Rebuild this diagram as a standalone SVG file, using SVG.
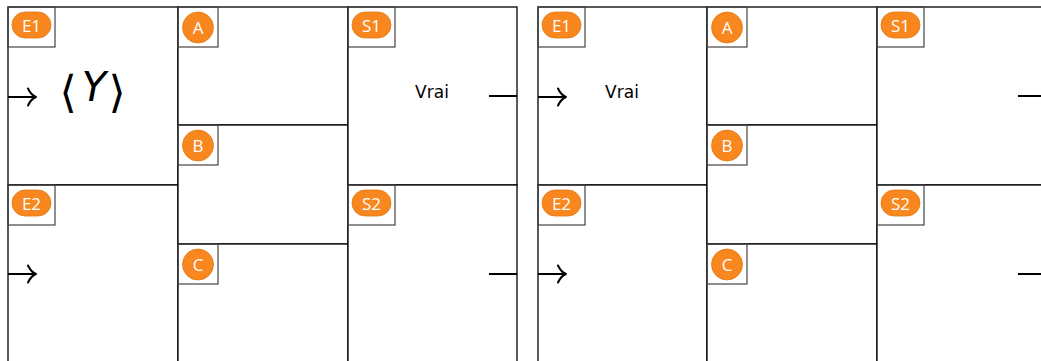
<svg xmlns="http://www.w3.org/2000/svg" width="1041" height="361" viewBox="0 0 1041 361">
  <style>
    .cell { fill: #ffffff; stroke: #000000; stroke-width: 1.3; }
    .tag { fill: none; stroke: #444444; stroke-width: 1.2; }
    .badge { fill: #f7871e; stroke: #e27a15; stroke-width: 0.8; }
    .badge-text { fill: #ffffff; font-family: "Open Sans", "DejaVu Sans", sans-serif; font-size: 17px; text-anchor: middle; }
    .value { fill: #000000; font-family: "DejaVu Sans", "Liberation Sans", sans-serif; font-size: 17px; text-anchor: middle; }
    .math { fill: #000000; font-family: "DejaVu Sans", sans-serif; text-anchor: middle; }
    .wire { fill: none; stroke: #000000; stroke-width: 2; }
    .head { fill: none; stroke: #000000; stroke-width: 2; stroke-linecap: round; stroke-linejoin: round; }
  </style>
  <defs>
    <!-- label tag with pill badge (two-character names) -->
    <g id="tag-wide">
      <rect class="tag" x="0" y="0" width="47" height="40"/>
      <rect class="badge" x="4" y="5" width="39" height="26" rx="13"/>
    </g>
    <!-- label tag with round badge (single-letter names) -->
    <g id="tag-round">
      <rect class="tag" x="0" y="0" width="40" height="40"/>
      <circle class="badge" cx="20" cy="20.5" r="15.5"/>
    </g>
    <!-- input arrow: shaft plus open head -->
    <g id="in-arrow">
      <line class="wire" x1="0" y1="0" x2="27" y2="0"/>
      <path class="head" d="M20,-8.5 Q23,-2 28,0 Q23,2 20,8.5"/>
    </g>
  </defs>

  <!-- ===== left panel ===== -->
  <g id="L-E1">
    <rect class="cell" x="8" y="7" width="170" height="178"/>
    <use href="#tag-wide" x="8" y="7"/>
    <text class="badge-text" x="31.5" y="32">E1</text>
    <text class="math" x="68" y="107" font-size="44">⟨</text>
    <text class="math" x="94" y="101" font-size="40" font-style="italic">Y</text>
    <text class="math" x="117" y="107" font-size="44">⟩</text>
  </g>
  <g id="L-E2">
    <rect class="cell" x="8" y="185" width="170" height="190"/>
    <use href="#tag-wide" x="8" y="185"/>
    <text class="badge-text" x="31.5" y="210">E2</text>
  </g>
  <g id="L-A">
    <rect class="cell" x="178" y="7" width="170" height="118"/>
    <use href="#tag-round" x="178" y="7"/>
    <text class="badge-text" x="198" y="34">A</text>
  </g>
  <g id="L-B">
    <rect class="cell" x="178" y="125" width="170" height="119"/>
    <use href="#tag-round" x="178" y="125"/>
    <text class="badge-text" x="198" y="152">B</text>
  </g>
  <g id="L-C">
    <rect class="cell" x="178" y="244" width="170" height="130"/>
    <use href="#tag-round" x="178" y="244"/>
    <text class="badge-text" x="198" y="271">C</text>
  </g>
  <g id="L-S1">
    <rect class="cell" x="348" y="7" width="169" height="178"/>
    <use href="#tag-wide" x="348" y="7"/>
    <text class="badge-text" x="371.5" y="32">S1</text>
    <text class="value" x="432" y="98">Vrai</text>
  </g>
  <g id="L-S2">
    <rect class="cell" x="348" y="185" width="169" height="190"/>
    <use href="#tag-wide" x="348" y="185"/>
    <text class="badge-text" x="371.5" y="210">S2</text>
  </g>

  <!-- ===== right panel ===== -->
  <g id="R-E1">
    <rect class="cell" x="538" y="7" width="169" height="178"/>
    <use href="#tag-wide" x="538" y="7"/>
    <text class="badge-text" x="561.5" y="32">E1</text>
    <text class="value" x="622" y="98">Vrai</text>
  </g>
  <g id="R-E2">
    <rect class="cell" x="538" y="185" width="169" height="190"/>
    <use href="#tag-wide" x="538" y="185"/>
    <text class="badge-text" x="561.5" y="210">E2</text>
  </g>
  <g id="R-A">
    <rect class="cell" x="707" y="7" width="170" height="118"/>
    <use href="#tag-round" x="707" y="7"/>
    <text class="badge-text" x="727" y="34">A</text>
  </g>
  <g id="R-B">
    <rect class="cell" x="707" y="125" width="170" height="119"/>
    <use href="#tag-round" x="707" y="125"/>
    <text class="badge-text" x="727" y="152">B</text>
  </g>
  <g id="R-C">
    <rect class="cell" x="707" y="244" width="170" height="130"/>
    <use href="#tag-round" x="707" y="244"/>
    <text class="badge-text" x="727" y="271">C</text>
  </g>
  <g id="R-S1">
    <rect class="cell" x="877" y="7" width="180" height="178"/>
    <use href="#tag-wide" x="877" y="7"/>
    <text class="badge-text" x="900.5" y="32">S1</text>
  </g>
  <g id="R-S2">
    <rect class="cell" x="877" y="185" width="180" height="190"/>
    <use href="#tag-wide" x="877" y="185"/>
    <text class="badge-text" x="900.5" y="210">S2</text>
  </g>

  <!-- ===== connectors: inputs and output stubs ===== -->
  <g id="connectors">
    <use href="#in-arrow" x="8" y="97"/>
    <use href="#in-arrow" x="8" y="274"/>
    <use href="#in-arrow" x="538" y="97"/>
    <use href="#in-arrow" x="538" y="274"/>
    <line class="wire" x1="489" y1="96" x2="517" y2="96"/>
    <line class="wire" x1="489" y1="274" x2="517" y2="274"/>
    <line class="wire" x1="1018" y1="96" x2="1041" y2="96"/>
    <line class="wire" x1="1018" y1="274" x2="1041" y2="274"/>
  </g>
</svg>
